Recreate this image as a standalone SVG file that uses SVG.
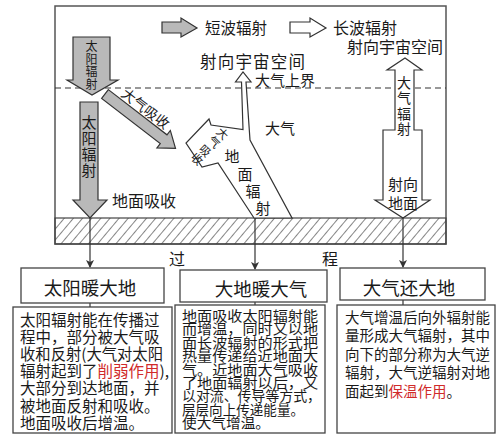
<svg xmlns="http://www.w3.org/2000/svg" width="500" height="437" viewBox="0 0 500 437">
<style>
text{font-family:"Noto Sans CJK SC","Liberation Sans",sans-serif;fill:#1a1a1a}
.c{text-anchor:middle;dominant-baseline:central}
.gray{fill:#b9b9b9;stroke:#333;stroke-width:1.2}
.white{fill:#fff;stroke:#333;stroke-width:1.2}
.box{fill:#fff;stroke:#444;stroke-width:1.3}
.ln{stroke:#333;stroke-width:1.2;fill:none}
.red{fill:#d02a2a}
</style>
<defs>
<pattern id="hatch" patternUnits="userSpaceOnUse" width="7" height="7" patternTransform="rotate(40)">
<line x1="0" y1="0" x2="0" y2="7" stroke="#333" stroke-width="1.2"/>
</pattern>
<marker id="ah" markerWidth="8" markerHeight="8" refX="7" refY="4" orient="auto" markerUnits="userSpaceOnUse">
<path d="M0,0 L8,4 L0,8 L2,4 Z" fill="#333"/>
</marker>
</defs>
<rect width="500" height="437" fill="#fff"/>

<g id="scene">
<rect x="55" y="6" width="391" height="238" fill="none" stroke="#555" stroke-width="1.5"/>
<rect x="55" y="218" width="391" height="26" fill="url(#hatch)" stroke="#444" stroke-width="1.2"/>
<line x1="55" y1="88" x2="446" y2="88" stroke="#333" stroke-width="1.2" stroke-dasharray="6,4"/>
</g>

<g id="legend">
<polygon class="gray" points="162,22 181,22 181,18 197,28 181,37 181,33 162,33"/>
<text x="205" y="34" font-size="15.5">短波辐射</text>
<polygon class="white" points="290,22 310,22 310,18 326,28 310,37 310,33 290,33"/>
<text x="333" y="34" font-size="16">长波辐射</text>
</g>

<g id="labels">
<text x="200" y="68" font-size="16.5" textLength="105">射向宇宙空间</text>
<text x="347" y="53" font-size="16">射向宇宙空间</text>
<text x="255" y="86" font-size="15">大气上界</text>
<text x="112" y="207" font-size="16">地面吸收</text>
<text class="c" x="280" y="127" font-size="15">大气</text>
</g>

<g id="solar-in">
<polygon class="gray" points="73,37 110,37 110,80 118,80 92,95 67,80 73,80"/>
<text class="c" font-size="12"><tspan x="91.5" y="45">太</tspan><tspan x="91.5" y="57.5">阳</tspan><tspan x="91.5" y="70">辐</tspan><tspan x="91.5" y="82.5">射</tspan></text>
</g>

<g id="solar-ground">
<polygon class="gray" points="80,102 98,102 98,200 107,200 90,218 73,200 80,200"/>
<text class="c" font-size="15"><tspan x="89" y="121">太</tspan><tspan x="89" y="137">阳</tspan><tspan x="89" y="153">辐</tspan><tspan x="89" y="169">射</tspan></text>
</g>

<g id="atm-absorb" transform="translate(105,94) rotate(37.6)">
<polygon class="gray" points="0,-5.5 74,-5.5 74,-11 89,0 74,11 74,5.5 0,5.5"/>
<text x="41" y="-8" font-size="14" text-anchor="middle">大气吸收</text>
</g>

<g id="ground-radiation">
<polygon class="white" points="254,218 218,163 202,167 186,143 209,119 211,125 243,129.5 241.5,82 235.5,82 243,72 251,82 246,82 250,140 292,218"/>
<text class="c" font-size="11.5" transform="translate(223,133) rotate(45)"><tspan x="0" y="0">大</tspan><tspan x="0" y="12">气</tspan><tspan x="0" y="24.5">吸</tspan><tspan x="0" y="36">收</tspan></text>
<text class="c" font-size="15"><tspan x="232" y="155">地</tspan><tspan x="245" y="173">面</tspan><tspan x="253" y="190">辐</tspan><tspan x="263" y="207">射</tspan></text>
</g>

<g id="atm-radiation">
<polygon class="white" points="405,58 422,70 414,70 414,130 422,130 422,200 430,200 403,218 375,200 383,200 383,130 395,130 395,70 387,70"/>
<text class="c" font-size="14"><tspan x="404" y="82">大</tspan><tspan x="404" y="97">气</tspan><tspan x="404" y="113">辐</tspan><tspan x="404" y="128">射</tspan></text>
<text class="c" font-size="15"><tspan x="403" y="183">射向</tspan><tspan x="403" y="202">地面</tspan></text>
</g>

<g id="connectors">
<line class="ln" x1="90" y1="218" x2="90" y2="267" marker-end="url(#ah)"/>
<line class="ln" x1="255" y1="218" x2="255" y2="269" marker-end="url(#ah)"/>
<line class="ln" x1="403" y1="218" x2="403" y2="267" marker-end="url(#ah)"/>
<line class="ln" x1="90" y1="303" x2="90" y2="307"/>
<line class="ln" x1="255" y1="302" x2="255" y2="305"/>
<line class="ln" x1="403" y1="300" x2="403" y2="305"/>
</g>

<g id="process-label">
<text class="c" x="177" y="258" font-size="16">过</text>
<text class="c" x="330" y="258" font-size="16">程</text>
</g>

<g id="box1">
<rect class="box" x="21" y="268" width="143" height="35"/>
<text class="c" x="90" y="287" font-size="18.5">太阳暖大地</text>
</g>
<g id="detail1">
<rect class="box" x="13" y="307" width="159" height="126"/>
<text font-size="15.5"><tspan x="20" y="325.5">太阳辐射能在传播过</tspan><tspan x="20" y="342.7">程中，部分被大气吸</tspan><tspan x="20" y="360" textLength="143" lengthAdjust="spacingAndGlyphs">收和反射(大气对太阳</tspan><tspan x="20" y="377.2">辐射起到了</tspan><tspan class="red">削弱作用</tspan><tspan>),</tspan><tspan x="20" y="394.4">大部分到达地面，并</tspan><tspan x="20" y="411.6">被地面反射和吸收。</tspan><tspan x="20" y="428.8">地面吸收后增温。</tspan></text>
</g>

<g id="box2">
<rect class="box" x="180" y="270" width="147" height="32"/>
<text class="c" x="261" y="288" font-size="18.5">大地暖大气</text>
</g>
<g id="detail2">
<rect class="box" x="175" y="305" width="150" height="128"/>
<text font-size="13.8"><tspan x="182" y="321" textLength="136" lengthAdjust="spacingAndGlyphs">地面吸收太阳辐射能</tspan><tspan x="182" y="334.4" textLength="136" lengthAdjust="spacingAndGlyphs">而增温，同时又以地</tspan><tspan x="182" y="347.8" textLength="136" lengthAdjust="spacingAndGlyphs">面长波辐射的形式把</tspan><tspan x="182" y="361.2" textLength="136" lengthAdjust="spacingAndGlyphs">热量传递给近地面大</tspan><tspan x="182" y="374.6" textLength="136" lengthAdjust="spacingAndGlyphs">气。近地面大气吸收</tspan><tspan x="182" y="388" textLength="136" lengthAdjust="spacingAndGlyphs">了地面辐射以后，又</tspan><tspan x="182" y="401.4" textLength="139" lengthAdjust="spacingAndGlyphs">以对流、传导等方式，</tspan><tspan x="182" y="414.8" textLength="122" lengthAdjust="spacingAndGlyphs">层层向上传递能量。</tspan><tspan x="182" y="428.2" textLength="88" lengthAdjust="spacingAndGlyphs">使大气增温。</tspan></text>
</g>

<g id="box3">
<rect class="box" x="340" y="268" width="145" height="32"/>
<text class="c" x="409" y="287" font-size="18.5">大气还大地</text>
</g>
<g id="detail3">
<rect class="box" x="337" y="305" width="158" height="128"/>
<text font-size="14.5"><tspan x="345" y="323">大气增温后向外辐射能</tspan><tspan x="345" y="341.4">量形成大气辐射，其中</tspan><tspan x="345" y="359.8">向下的部分称为大气逆</tspan><tspan x="345" y="378.2">辐射，大气逆辐射对地</tspan><tspan x="345" y="396.6">面起到</tspan><tspan class="red">保温作用</tspan><tspan>。</tspan></text>
</g>
</svg>
